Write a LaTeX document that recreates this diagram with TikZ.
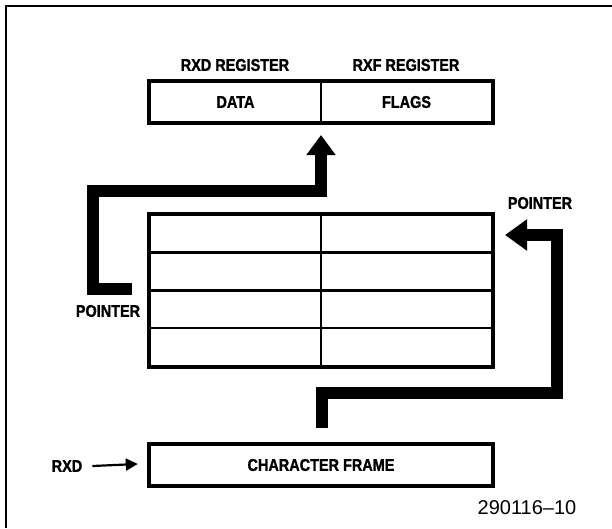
\documentclass[tikz,border=0pt]{standalone}
\usepackage{fontspec}
\setmainfont{Liberation Sans}
\newfontfamily\lblfont[FakeStretch=0.85,BoldFeatures={FakeStretch=0.85,FakeBold=1.2}]{Liberation Sans}
\usetikzlibrary{arrows.meta,calc}
\tikzset{
  lbl/.style={font=\lblfont\fontsize{17}{17}\selectfont\bfseries, inner sep=0pt},
  numlbl/.style={font=\fontsize{20}{20}\selectfont, inner sep=0pt},
  cellbox/.style={draw, line width=2.4pt, minimum width=171pt, inner sep=0pt, font=\lblfont\fontsize{17}{17}\selectfont\bfseries},
  outerbox/.style={line width=3pt},
  pointer/.style={line width=12pt, line join=miter, -{Triangle[length=20pt,width=28pt]}},
  pointerR/.style={line width=12pt, line join=miter, -{Triangle[length=22pt,width=30pt]}},
  thinarrow/.style={line width=2.2pt, -{Triangle[length=12pt,width=12pt]}},
  framestyle/.style={line width=2pt}
}
\begin{document}
\begin{tikzpicture}[x=1pt,y=-1pt]
\useasboundingbox (0,0) rectangle (612,528);
% outer frame (top and left edges)
\draw[framestyle] (612,6) -- (6,6) -- (6,528);

% register
\node[cellbox, minimum height=40pt] (data) at (235.5,102) {DATA};
\node[cellbox, minimum height=40pt] (flags) at (406.5,102) {FLAGS};
\draw[outerbox] (data.north west) rectangle (flags.south east);
\node[lbl] (rxdreg) at (235,65) {RXD REGISTER};
\node[lbl] (rxfreg) at (406,65) {RXF REGISTER};

% table (FIFO)
\foreach \r/\y in {1/234, 2/271.5, 3/309, 4/347}{
  \node[cellbox, minimum height=37.75pt] (t\r1) at (235.5,\y) {};
  \node[cellbox, minimum height=37.75pt] (t\r2) at (406.5,\y) {};
}
\draw[outerbox] (t11.north west) rectangle (t42.south east);

% character frame
\node[cellbox, minimum width=342pt, minimum height=40pt] (cf) at (321,465) {CHARACTER FRAME};
\draw[outerbox] (cf.north west) rectangle (cf.south east);

% RXD input
\node[lbl] (rxd) at (67,466) {RXD};
\coordinate (rxdend) at ($(cf.west)+(-11pt,1pt)$);
\draw[thinarrow] ($(rxd.east)+(10pt,0)$) -- (rxdend);

% left pointer
\node[lbl] (lptr) at (108,311) {POINTER};
\coordinate (lstart) at (132,289);
\coordinate (ltip) at (321,135);
\draw[pointer] (lstart) -- (93,289) -- (93,191) -| (ltip);

% right pointer
\node[lbl] (rptr) at (540,203) {POINTER};
\coordinate (rstart) at (322,428);
\coordinate (rtip) at (505,235);
\draw[pointerR] (rstart) -- (322,393) -- (557,393) |- (rtip);

% figure number
\node[numlbl] (fignum) at (527,508) {290116--10};
\end{tikzpicture}
\end{document}
